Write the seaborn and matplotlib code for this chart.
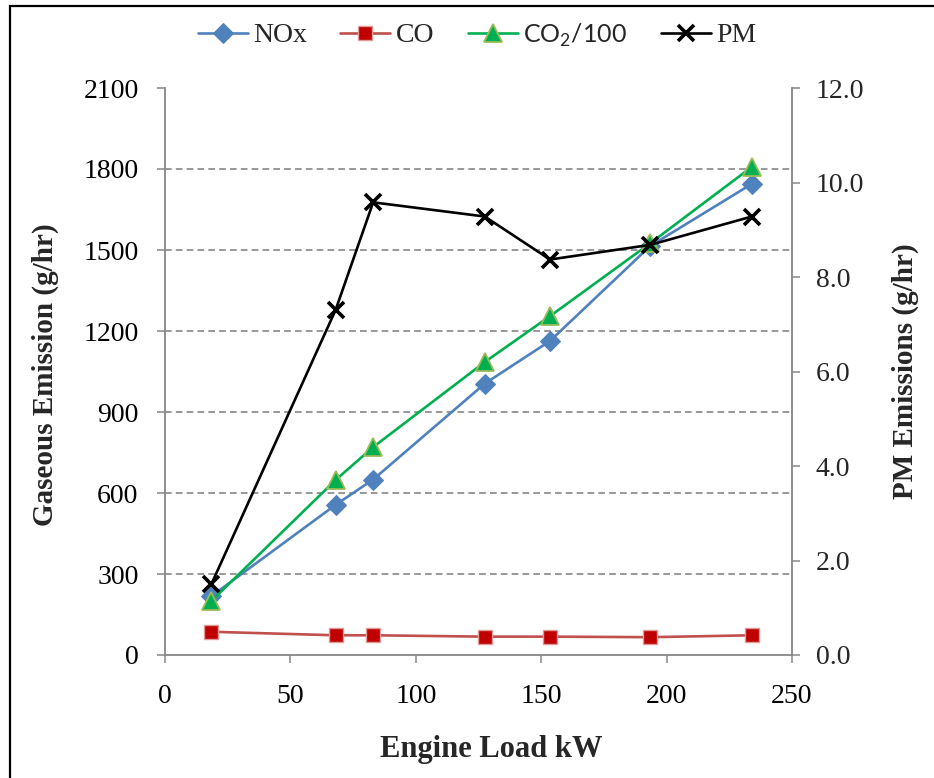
import matplotlib
matplotlib.use("Agg")
import matplotlib.pyplot as plt
from matplotlib.patches import Rectangle
from matplotlib.ticker import FormatStrFormatter
import seaborn as sns
import pandas as pd

# ---- data ----
load_kw = [18.5, 68, 83, 127.5, 153.5, 193.5, 234]
nox = [218, 556, 650, 1005, 1163, 1515, 1745]
co = [86, 73, 73, 68, 68, 66, 73]
co2_100 = [200, 648, 770, 1085, 1255, 1525, 1808]
pm = [1.50, 7.30, 9.58, 9.28, 8.37, 8.68, 9.28]

series_labels = ["NOx", "CO", "CO$_\\mathregular{2}$/100", "PM"]
left_ticks = [0, 300, 600, 900, 1200, 1500, 1800, 2100]
right_ticks = [0, 2, 4, 6, 8, 10, 12]
x_ticks = [0, 50, 100, 150, 200, 250]

sns.set_style("white")
plt.rcParams["font.family"] = ["Liberation Serif", "DejaVu Serif"]
plt.rcParams["mathtext.fontset"] = "custom"
plt.rcParams["mathtext.rm"] = "Lato"

fig = plt.figure(figsize=(9.34, 7.78), dpi=100)
ax = fig.add_axes([165 / 934, 1 - 655 / 778, 627 / 934, 567 / 778])
ax2 = ax.twinx()

df = pd.DataFrame({"load": load_kw, "nox": nox, "co": co, "co2": co2_100, "pm": pm})

lw = 1.9
sns.lineplot(data=df, x="load", y="nox", ax=ax, color="#4F81BD", linewidth=lw,
             marker="D", markersize=10, markerfacecolor="#4F81BD",
             markeredgecolor="#4F81BD", label=series_labels[0], legend=False,
             estimator=None, sort=False)
sns.lineplot(data=df, x="load", y="co", ax=ax, color="#C0504D", linewidth=lw,
             marker="s", markersize=10, markerfacecolor="#C00000",
             markeredgecolor="#E29A98", markeredgewidth=1.0,
             label=series_labels[1], legend=False, estimator=None, sort=False)
sns.lineplot(data=df, x="load", y="co2", ax=ax, color="#00B050", linewidth=lw,
             marker="^", markersize=13, markerfacecolor="#00B050",
             markeredgecolor="#9BBB59", markeredgewidth=1.3,
             label=series_labels[2], legend=False, estimator=None, sort=False)
sns.lineplot(data=df, x="load", y="pm", ax=ax2, color="black", linewidth=lw,
             marker="x", markersize=11, markeredgewidth=2.6, markeredgecolor="black",
             label=series_labels[3], legend=False, estimator=None, sort=False)

gray = "#868686"
ax.set_xlim(0, 250)
ax.set_ylim(0, 2100)
ax2.set_ylim(0, 12)
ax.set_xticks(x_ticks)
ax.set_yticks(left_ticks)
ax2.set_yticks(right_ticks)
ax2.yaxis.set_major_formatter(FormatStrFormatter("%.1f"))

for a in (ax, ax2):
    for s in a.spines.values():
        s.set_color(gray)
        s.set_linewidth(1.3)
    a.spines["top"].set_visible(False)
ax.spines["right"].set_visible(False)
ax2.spines["left"].set_visible(False)
ax2.spines["bottom"].set_visible(False)

ax.tick_params(axis="both", direction="out", length=6, width=1.1, color=gray,
               labelsize=20, labelcolor="black")
ax.tick_params(axis="x", pad=15, bottom=True)
ax.tick_params(axis="y", pad=13, left=True)
ax2.tick_params(axis="y", direction="out", length=6, width=1.1, color=gray,
                labelsize=20, pad=11, right=True)

ax.yaxis.grid(True, color=gray, linestyle=(0, (4, 2.5)), linewidth=1.2)
ax.xaxis.grid(False)
ax2.grid(False)
ax.set_axisbelow(True)
gl = ax.get_ygridlines()
gl[-1].set_visible(False)
gl[0].set_visible(False)

ax.set_xlabel("Engine Load kW", fontsize=22, fontweight="bold")
ax.set_ylabel("Gaseous Emission (g/hr)", fontsize=21, fontweight="bold")
ax2.set_ylabel("PM Emissions (g/hr)", fontsize=21, fontweight="bold", rotation=90)
for lab in (ax.xaxis.label, ax.yaxis.label, ax2.yaxis.label):
    lab.set_ha("center")
    lab.set_va("center")
ax.xaxis.set_label_coords(0.52, -0.1675)
ax.yaxis.set_label_coords(-0.1914, 0.494)
ax2.yaxis.set_label_coords(1.180, 0.50)

handles = ax.get_lines() + ax2.get_lines()
handles = [h for h in handles if h.get_label() in series_labels]
leg = fig.legend(handles, [h.get_label() for h in handles], loc="center",
                 bbox_to_anchor=(477 / 934, 1 - 35 / 778), ncol=4, frameon=False,
                 fontsize=20, handlelength=1.8, handletextpad=0.2,
                 columnspacing=1.2, numpoints=1)
leg.get_texts()[2].set_fontfamily(["Lato", "DejaVu Sans"])
leg.get_texts()[2].set_fontsize(18)

fig.add_artist(Rectangle((10 / 934, -0.2), 1.5, 1.2 - 6 / 778, transform=fig.transFigure,
                         fill=False, edgecolor="black", linewidth=1.6, clip_on=False))

fig.savefig("out.png", dpi=100)
